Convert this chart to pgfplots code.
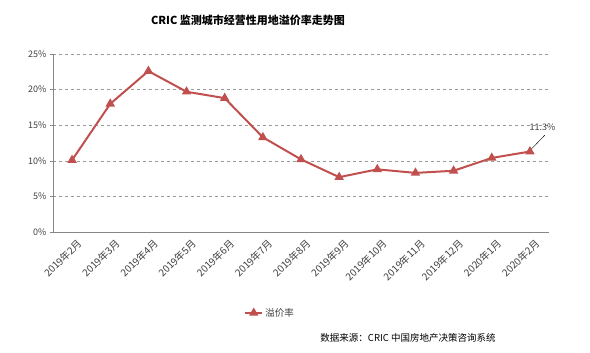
\documentclass[border=0pt]{standalone}
\usepackage{pgfplots}
\pgfplotsset{compat=1.18}
\usepackage{fontspec}
\setmainfont{Noto Sans CJK SC}
\definecolor{lred}{HTML}{C0504D}
\definecolor{axgray}{HTML}{868686}
\definecolor{txt}{HTML}{404040}
\begin{document}
\begin{tikzpicture}[x=1pt,y=1pt]
\path[use as bounding box] (0,0) rectangle (590,353);
\node[font=\fontsize{11}{12}\selectfont\bfseries, text=black] at (248,333) {CRIC 监测城市经营性用地溢价率走势图};
\node[font=\fontsize{9.5}{11}\selectfont, text=black] at (408,15) {数据来源：CRIC 中国房地产决策咨询系统};
\begin{axis}[
  at={(53pt,121pt)}, anchor=south west,
  scale only axis, width=496pt, height=178pt,
  xmin=-0.5, xmax=12.5, ymin=0, ymax=25,
  ytick={0,5,10,15,20,25},
  yticklabel={\pgfmathprintnumber{\tick}\%},
  /pgf/number format/assume math mode=true,
  xtick={0,...,12},
  xticklabels={2019年2月,2019年3月,2019年4月,2019年5月,2019年6月,2019年7月,2019年8月,2019年9月,2019年10月,2019年11月,2019年12月,2020年1月,2020年2月},
  x tick label style={rotate=45, anchor=north east, font=\fontsize{10}{11}\selectfont, text=txt, inner sep=1pt, xshift=2pt, yshift=-4pt},
  y tick label style={font=\fontsize{9}{10}\selectfont, text=txt},
  major x tick style={draw=none},
  extra x ticks={-0.5,0.5,...,12.5},
  extra x tick labels={},
  extra x tick style={tick style={draw=axgray, thin}, major tick length=4pt, tick align=outside, grid=none},
  axis x line*=bottom, axis y line*=left,
  axis line style={draw=axgray, thin},
  y axis line style={-}, x axis line style={-},
  ytick style={draw=axgray, thin}, tick align=outside, major tick length=3pt,
  ymajorgrids, grid style={dashed, draw=gray!80, thin},
  legend style={at={(0.4375,-0.455)}, anchor=center, draw=none, font=\fontsize{9.5}{11}\selectfont, text=txt},
  legend cell align=left,
  clip=false,
]
\addplot[color=lred, line width=2pt, mark=triangle*, mark size=3.5pt, mark options={solid}] coordinates {
(0,10.1) (1,18.0) (2,22.6) (3,19.7) (4,18.8) (5,13.3) (6,10.2) (7,7.7) (8,8.8) (9,8.3) (10,8.6) (11,10.4) (12,11.3)
};
\addlegendentry{溢价率}
\draw[black, thin] (axis cs:12.03,11.6) -- (axis cs:12.39,13.6);
\node[font=\fontsize{9}{10}\selectfont, text=txt] at (axis cs:12.33,14.7) {11.3\%};
\end{axis}
\end{tikzpicture}
\end{document}
